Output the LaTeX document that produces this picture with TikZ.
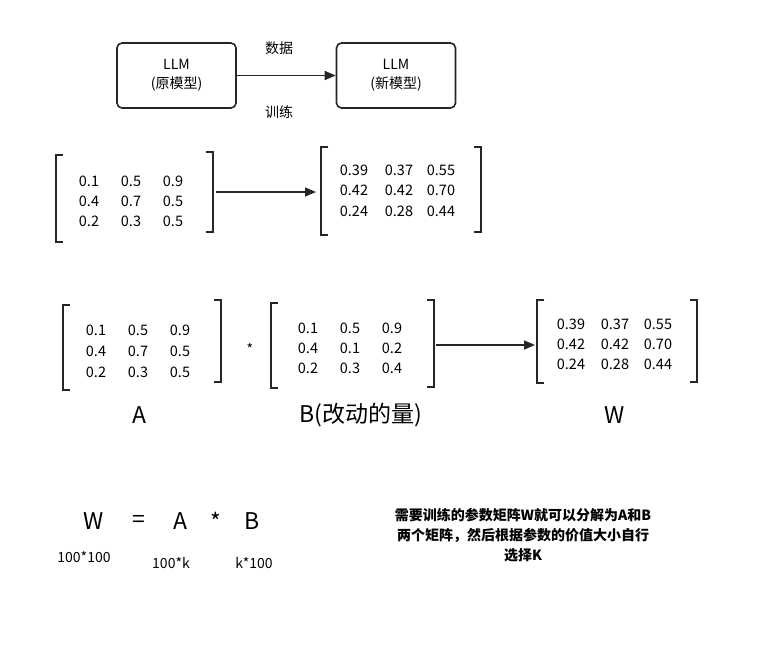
\documentclass[tikz,border=0pt]{standalone}
\usepackage{fontspec}
\setmainfont{Noto Sans CJK SC}
\usetikzlibrary{arrows.meta}
\begin{document}
\begin{tikzpicture}[x=1pt,y=-1pt,
  box/.style={draw=black!85,line width=1.6pt,rounded corners=5pt,minimum width=119pt,minimum height=65pt,align=center,font=\fontsize{14}{19}\selectfont},
  arr/.style={-{Triangle[length=11pt,width=9pt]},line width=1.5pt,black!85},
  brk/.style={line width=1.6pt,black!85},
  num/.style={font=\fontsize{14.5}{16}\selectfont,inner sep=0pt},
  lab/.style={font=\fontsize{14}{16}\selectfont,inner sep=1pt},
  big/.style={font=\fontsize{23}{26}\selectfont,inner sep=0pt}]
\useasboundingbox (0,0) rectangle (769,649);
\node[box] (m1) at (176.5,75.5) {LLM\\(原模型)};
\node[box] (m2) at (396,75.5) {LLM\\(新模型)};
\draw[arr] (m1.east) -- (m2.west);
\node[lab] (d) at (279,48) {数据};
\node[lab] (t) at (279,112) {训练};
\newcommand{\mybrk}[4]{\draw[brk] ({#1+#4*7},#2) -- (#1,#2) -- (#1,#3) -- ({#1+#4*7},#3);}
% matrix 1
\mybrk{56}{155}{242}{1}\mybrk{213}{152}{232}{-1}
\foreach \y/\a/\b/\c in {181/0.1/0.5/0.9,201/0.4/0.7/0.5,221/0.2/0.3/0.5}{
 \node[num] at (89,\y) {\a};\node[num] at (131,\y) {\b};\node[num] at (173,\y) {\c};}
\coordinate (a1) at (216,192);\coordinate (a2) at (316,192);
\draw[arr] (a1) -- (a2);
% matrix 2
\mybrk{321}{147}{235}{1}\mybrk{481}{147}{232}{-1}
\foreach \y/\a/\b/\c in {170/0.39/0.37/0.55,190/0.42/0.42/0.70,211/0.24/0.28/0.44}{
 \node[num] at (354,\y) {\a};\node[num] at (399,\y) {\b};\node[num] at (441,\y) {\c};}
% A
\mybrk{63}{305}{390}{1}\mybrk{221}{300}{382}{-1}
\foreach \y/\a/\b/\c in {330/0.1/0.5/0.9,351/0.4/0.7/0.5,372/0.2/0.3/0.5}{
 \node[num] at (96,\y) {\a};\node[num] at (138,\y) {\b};\node[num] at (180,\y) {\c};}
\node[lab] (st) at (250,349) {*};
% B
\mybrk{271}{303}{388}{1}\mybrk{434}{300}{387}{-1}
\foreach \y/\a/\b/\c in {328/0.1/0.5/0.9,348/0.4/0.1/0.2,368/0.2/0.3/0.4}{
 \node[num] at (308,\y) {\a};\node[num] at (350,\y) {\b};\node[num] at (392,\y) {\c};}
\coordinate (b1) at (436,345);\coordinate (b2) at (535,345);
\draw[arr] (b1) -- (b2);
% W
\mybrk{537}{300}{383}{1}\mybrk{697}{300}{382}{-1}
\foreach \y/\a/\b/\c in {324/0.39/0.37/0.55,344/0.42/0.42/0.70,364/0.24/0.28/0.44}{
 \node[num] at (571,\y) {\a};\node[num] at (615,\y) {\b};\node[num] at (658,\y) {\c};}
\node[big] (la) at (139,415) {A};
\node[big] (lb) at (361,415) {B(改动的量)};
\node[big] (lw) at (615,415) {W};
% equation
\node[big] (e1) at (94,521) {W};
\node[big] (e2) at (139,521) {=};
\node[big] (e3) at (180,521) {A};
\node[big] (e4) at (216,521) {*};
\node[big] (e5) at (252,521) {B};
\node[lab] (s1) at (84,557) {100*100};
\node[lab] (s2) at (171,563) {100*k};
\node[lab] (s3) at (254,563) {k*100};
\node[align=center,font=\bfseries\fontsize{14}{20}\selectfont] (note) at (523,535) {需要训练的参数矩阵W就可以分解为A和B\\两个矩阵，然后根据参数的价值大小自行\\选择K};
\end{tikzpicture}
\end{document}
